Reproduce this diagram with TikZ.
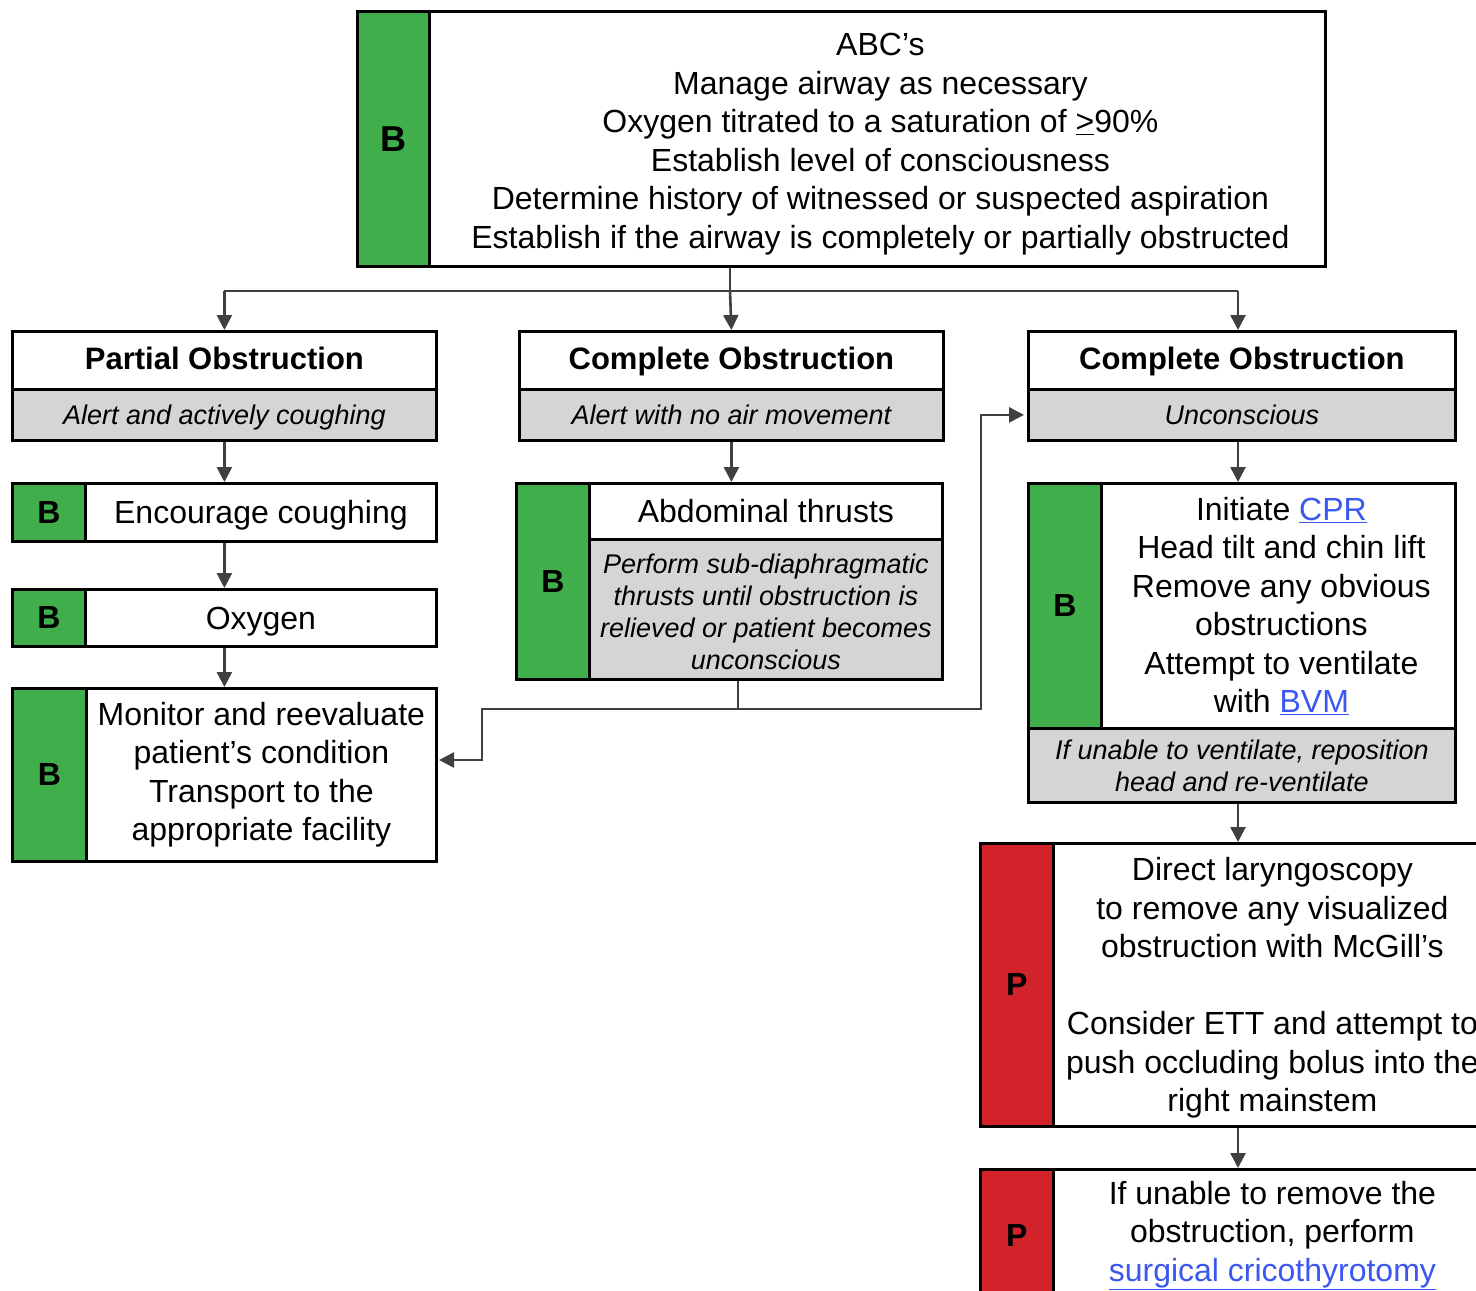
\documentclass[tikz,border=0pt]{standalone}
\usepackage{fontspec}
\setmainfont{Liberation Sans}
\usetikzlibrary{arrows.meta,calc}
\definecolor{bgreen}{RGB}{64,174,74}
\definecolor{pred}{RGB}{210,35,42}
\definecolor{lgray}{RGB}{212,213,215}
\definecolor{linkblue}{RGB}{58,88,240}
\definecolor{conncol}{RGB}{64,64,64}
\newcommand\mainsz{\fontsize{32}{38.5}\selectfont}
\newcommand\titlesz{\fontsize{31}{36}\selectfont\bfseries}
\newcommand\graysz{\fontsize{27}{32}\selectfont\itshape}
\newcommand\lnk[1]{\textcolor{linkblue}{\underline{#1}}}
\begin{document}
\begin{tikzpicture}[x=1pt,y=-1pt,
  box/.style={draw=black, line width=2.8pt, anchor=north west, inner sep=0pt, align=center, font=\mainsz, fill=white},
  oneline/.style={text height=23pt, text depth=0pt},
  gbox/.style={box, fill=bgreen, font=\fontsize{32}{36}\selectfont\bfseries},
  rbox/.style={box, fill=pred, font=\fontsize{32}{36}\selectfont\bfseries},
  tbox/.style={box, font=\titlesz, text height=22pt, text depth=3pt},
  graybox/.style={box, fill=lgray, font=\graysz},
  grayone/.style={graybox, text height=19pt, text depth=0pt},
  txt/.style={inner sep=0pt, align=center, font=\mainsz},
  arr/.style={draw=conncol, line width=2.6pt, -{Triangle[length=15pt,width=15pt]}},
  ln/.style={draw=conncol, line width=2.6pt}
]
\useasboundingbox (0,0) rectangle (1476,1291);
\clip (0,0) rectangle (1476,1291);
\fill[white] (0,0) rectangle (1476,1291);

% top box
\node[gbox, minimum width=72pt, minimum height=255pt, font=\fontsize{36}{40}\selectfont\bfseries] (topg) at (356,10) {B};
\node[box, minimum width=896pt, minimum height=255pt] (top) at (428,10) {};
\node[txt] (toptext) at ($(top.center)+(3,5)$) {ABC’s\\Manage airway as necessary\\Oxygen titrated to a saturation of \underline{>}90\%\\Establish level of consciousness\\Determine history of witnessed or suspected aspiration\\Establish if the airway is completely or partially obstructed};

% headers
\node[tbox, minimum width=424pt, minimum height=58pt] (po) at (11,330) {Partial Obstruction};
\node[grayone, minimum width=424pt, minimum height=51pt] (pog) at (11,388) {Alert and actively coughing};
\node[tbox, minimum width=424pt, minimum height=58pt] (co) at (518,330) {Complete Obstruction};
\node[grayone, minimum width=424pt, minimum height=51pt] (cog) at (518,388) {Alert with no air movement};
\node[tbox, minimum width=427pt, minimum height=58pt] (rc) at (1027,330) {Complete Obstruction};
\node[grayone, minimum width=427pt, minimum height=51pt] (rcg) at (1027,388) {Unconscious};

% left column
\node[gbox, minimum width=73pt, minimum height=58pt] (encg) at (11,482) {B};
\node[box, oneline, minimum width=351pt, minimum height=58pt] (enc) at (84,482) {Encourage coughing};
\node[gbox, minimum width=73pt, minimum height=57pt] (oxg) at (11,588) {B};
\node[box, oneline, minimum width=351pt, minimum height=57pt] (ox) at (84,588) {Oxygen};
\node[gbox, minimum width=74pt, minimum height=173pt] (mong) at (11,687) {B};
\node[box, minimum width=350pt, minimum height=173pt] (mon) at (85,687) {Monitor and reevaluate\\patient’s condition\\Transport to the\\appropriate facility};

% middle column
\node[gbox, minimum width=73pt, minimum height=196pt] (abg) at (515,482) {B};
\node[box, oneline, minimum width=353pt, minimum height=56pt] (ab) at (588,482) {Abdominal thrusts};
\node[graybox, minimum width=353pt, minimum height=140pt] (abgr) at (588,538) {};
\node[txt, font=\graysz] (abtext) at ($(abgr.center)+(0,2)$) {Perform sub-diaphragmatic\\thrusts until obstruction is\\relieved or patient becomes\\unconscious};

% right column
\node[gbox, minimum width=73pt, minimum height=245pt] (cprg) at (1027,482) {B};
\node[box, minimum width=354pt, minimum height=245pt] (cpr) at (1100,482) {};
\node[txt] (cprtext) at ($(cpr.center)+(3,0)$) {Initiate \lnk{CPR}\\Head tilt and chin lift\\Remove any obvious\\obstructions\\Attempt to ventilate\\with \lnk{BVM}};
\node[graybox, minimum width=427pt, minimum height=74pt] (cprgr) at (1027,727) {If unable to ventilate, reposition\\head and re-ventilate};

\node[rbox, minimum width=73pt, minimum height=283pt] (dlg) at (979,842) {P};
\node[box, minimum width=438pt, minimum height=283pt] (dl) at (1052,842) {};
\node[txt] (dltext) at ($(dl.center)+(0,3)$) {Direct laryngoscopy\\to remove any visualized\\obstruction with McGill’s\\[38.5pt]Consider ETT and attempt to\\push occluding bolus into the\\right mainstem};
\node[rbox, minimum width=73pt, minimum height=132pt] (scg) at (979,1168) {P};
\node[box, minimum width=438pt, minimum height=132pt] (sc) at (1052,1168) {};
\node[txt] (sctext) at ($(sc.center)+(0,0)$) {If unable to remove the\\obstruction, perform\\\lnk{surgical cricothyrotomy}};

% connectors
\coordinate (split) at (730,291);
\coordinate (rx) at (1238,291);
\draw[ln] (top.south -| split) -- (split);
\draw[ln] (split -| po.north) -- (rx);
\draw[arr] (split -| po.north) -- (po.north);
\draw[arr] (split) -- (co.north);
\draw[arr] (rx) -- (rx |- rc.north);

\draw[arr] (pog.south) -- (pog.south |- encg.north);
\draw[arr] (pog.south |- enc.south) -- (pog.south |- oxg.north);
\draw[arr] (pog.south |- ox.south) -- (pog.south |- mong.north);

\draw[arr] (cog.south) -- (cog.south |- ab.north);
\draw[arr] (rx |- rcg.south) -- (rx |- cpr.north);
\draw[arr] (rx |- cprgr.south) -- (rx |- dl.north);
\draw[arr] (rx |- dl.south) -- (rx |- sc.north);

\coordinate (abj) at (738,709);
\coordinate (lturn) at (482,709);
\coordinate (rturn) at (981,709);
\coordinate (monin) at (439,760);
\draw[ln] (abj |- abgr.south) -- (abj);
\draw[arr] (abj) -- (lturn) |- (monin);
\draw[arr, shorten >=3pt] (abj) -- (rturn) |- (rcg.west);
\end{tikzpicture}
\end{document}
